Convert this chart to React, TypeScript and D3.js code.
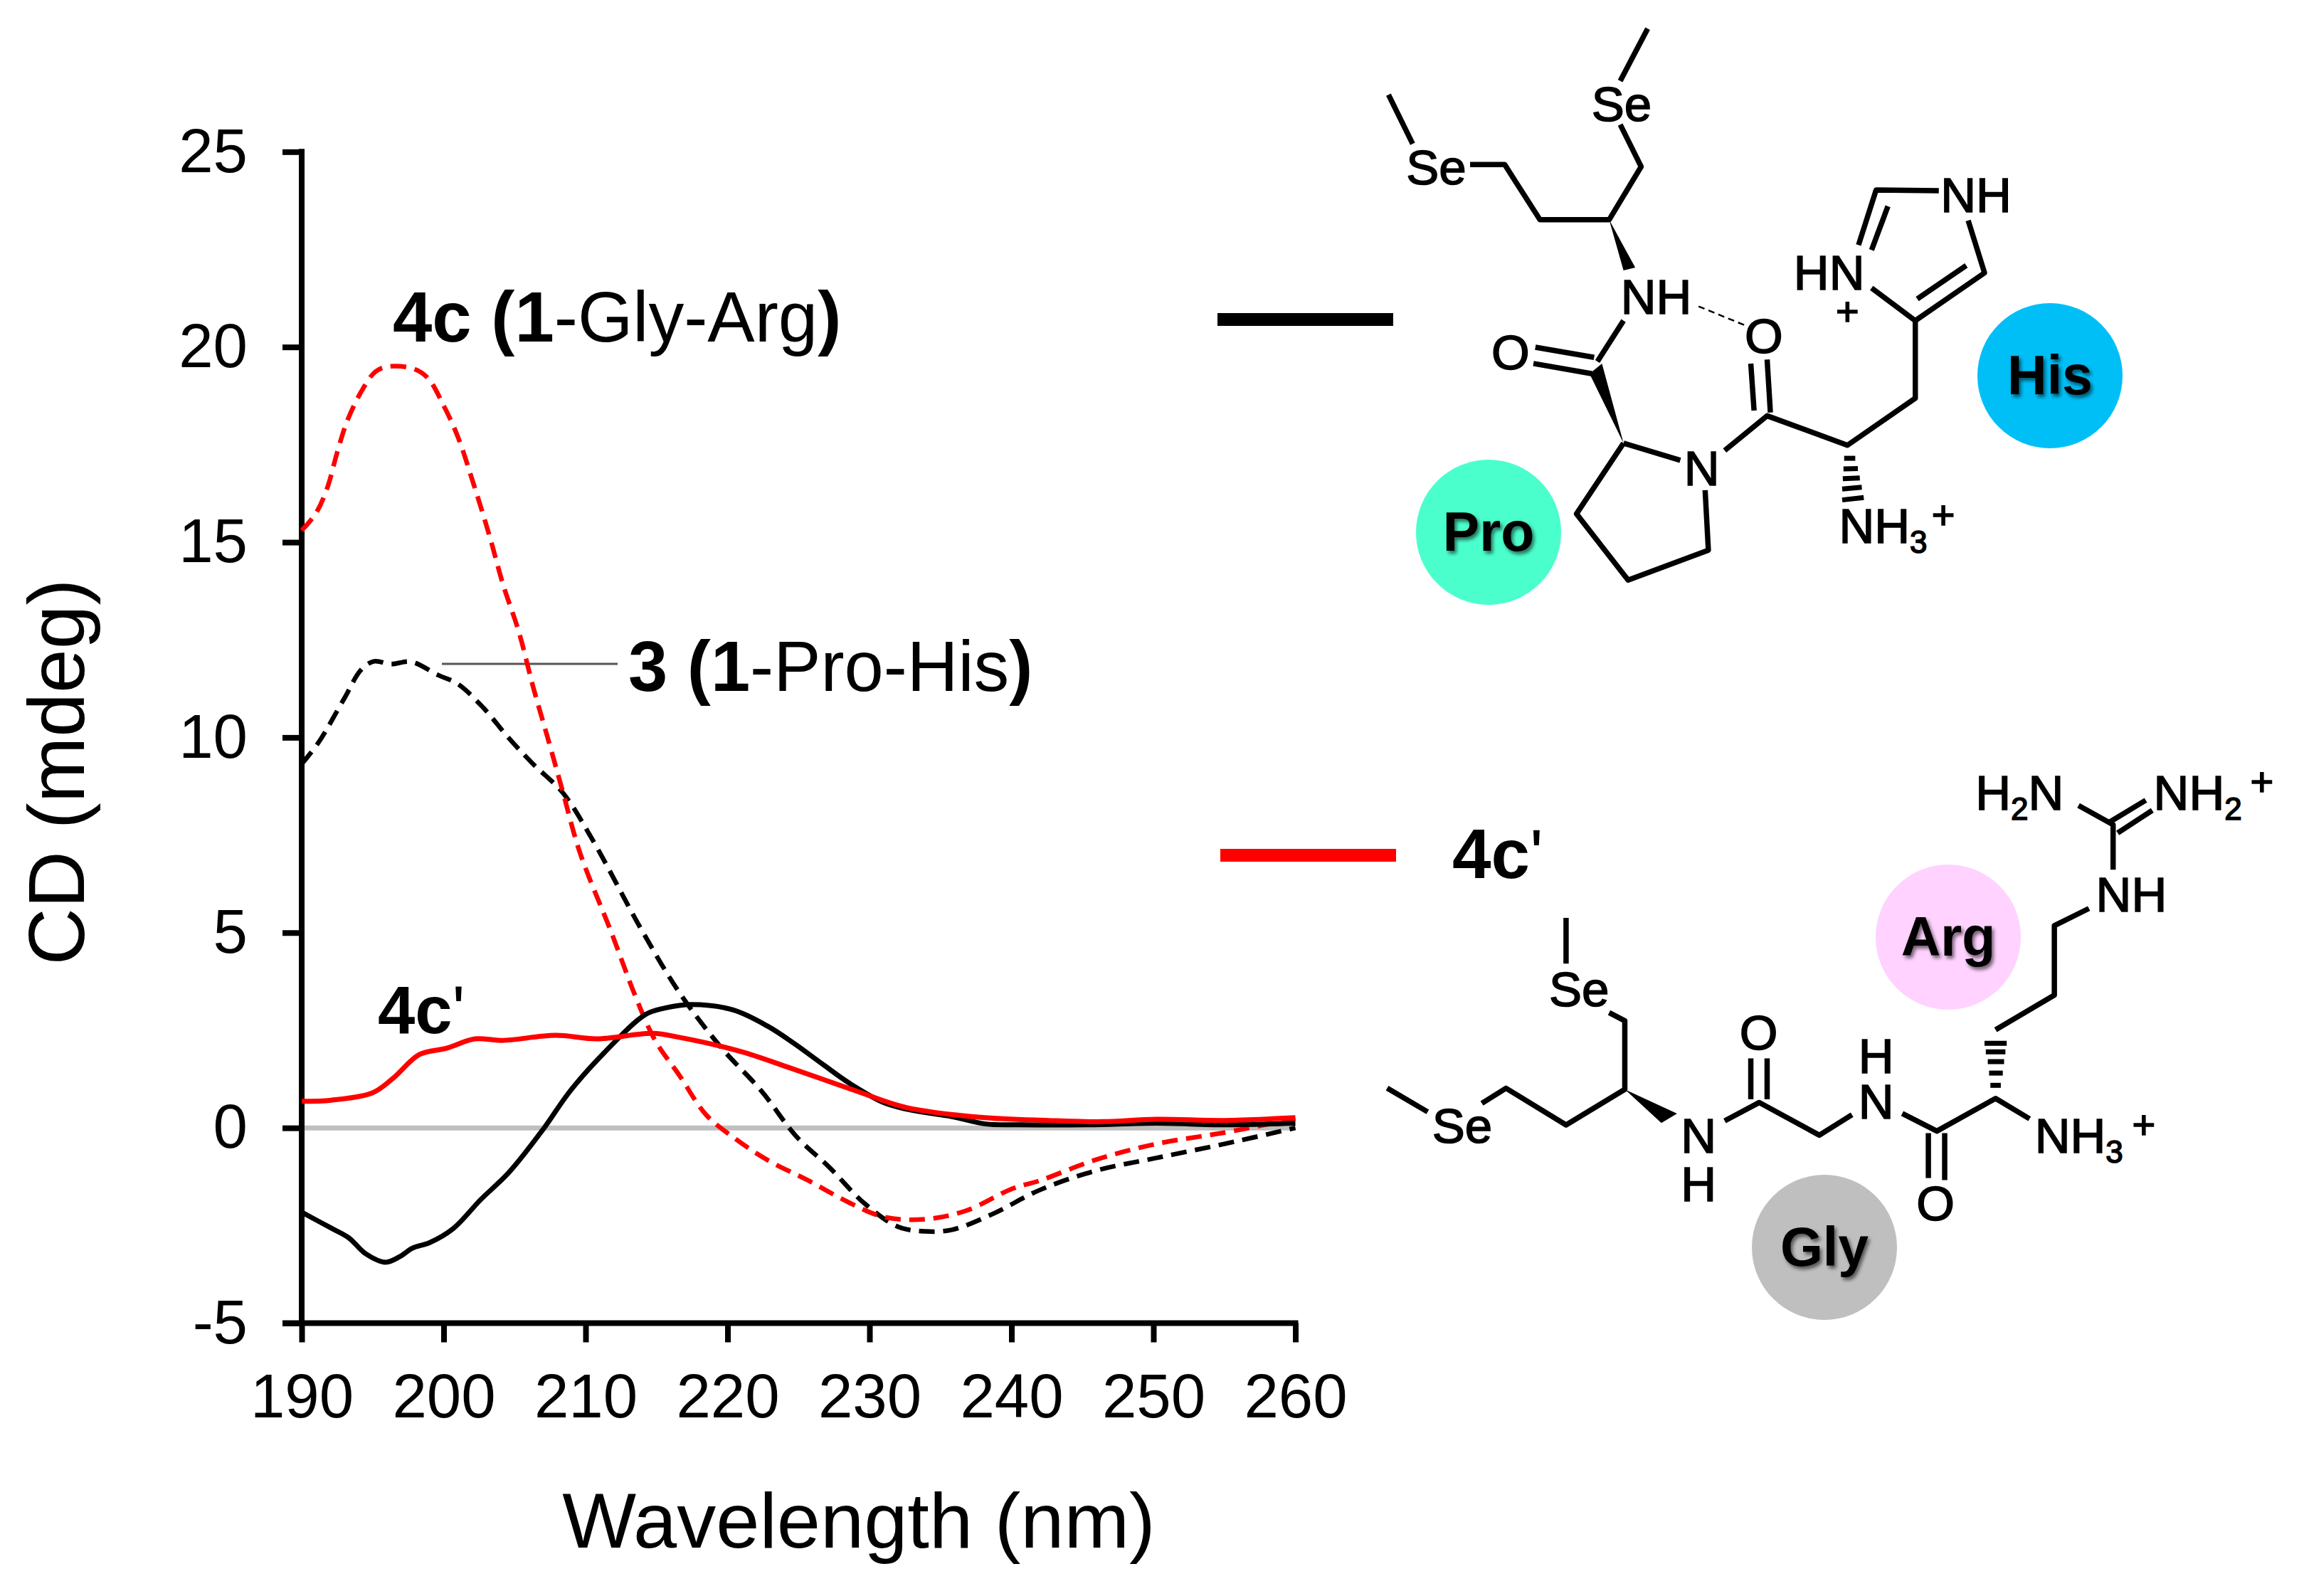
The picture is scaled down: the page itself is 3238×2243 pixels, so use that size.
import React, { useEffect, useRef } from "react";
import * as d3 from "d3";

const W = 3238, H = 2243;
const xTicks = [190, 200, 210, 220, 230, 240, 250, 260];
const yTicks = [-5, 0, 5, 10, 15, 20, 25];

const blackSolidX = [190,192.1,193.3,194.5,195.9,196.9,197.8,199,200.7,202.6,204.6,207,208.9,211.3,214.2,215.6,217.5,220.4,222.8,224.7,226.7,228.6,231,233,235.8,238.2,240.6,245.4,250.2,255,260];
const blackSolidY = [-2.16,-2.57,-2.81,-3.22,-3.44,-3.3,-3.08,-2.94,-2.57,-1.84,-1.14,-0.04,0.94,1.92,2.9,3.07,3.16,3.02,2.61,2.16,1.63,1.14,0.65,0.45,0.29,0.1,0.08,0.08,0.12,0.08,0.12];
const redSolidX = [190,192.1,195,196.4,198.3,200.2,202.2,204.1,207.9,210.8,214.7,216.6,220.9,224.3,229.1,232.5,237.8,242.6,246.4,250.2,255,260];
const redSolidY = [0.68,0.71,0.9,1.26,1.88,2.04,2.28,2.24,2.37,2.28,2.42,2.32,1.96,1.55,0.94,0.53,0.27,0.19,0.16,0.22,0.19,0.26];
const blackDashX = [190,191.2,193,194.2,195.1,196.3,197.7,199.6,201,202.8,204.5,206.3,208.4,210.5,213.9,216.6,219.5,222.4,224.8,227.2,229.6,232,233.9,235.8,238.7,242,245.9,250.2,255,260];
const blackDashY = [9.32,9.88,11,11.74,11.95,11.88,11.94,11.6,11.37,10.76,10.02,9.32,8.58,7.37,5.1,3.47,2.08,0.94,-0.2,-1.02,-1.92,-2.53,-2.65,-2.61,-2.2,-1.59,-1.1,-0.77,-0.41,0];
const redDashX = [190,191,191.8,192.5,193.2,194.2,195.2,196.1,197.9,198.9,200,201,202.1,203.2,204.2,205.3,206.3,207.4,208.4,209.6,211.8,213.5,214.9,216.6,218.5,220.4,222.8,225.7,228.6,231,233.9,236.8,240.1,242,245.9,250.2,255,258.4,260];
const redDashY = [15.3,15.74,16.39,17.3,18.1,18.86,19.37,19.5,19.44,19.2,18.5,17.7,16.5,15.2,13.9,12.7,11.3,9.9,8.6,7.05,5.02,3.38,2.24,1.35,0.33,-0.24,-0.82,-1.35,-1.92,-2.28,-2.34,-2.12,-1.55,-1.35,-0.82,-0.41,-0.12,0.12,0.24];

const SANS = "'Liberation Sans', Arial, sans-serif";
const FX = 1.09, FY = 1.742;
type P = [number, number];
const topP = (p: P): P => [1800 + p[0] / FX, p[1] / FY];
const botP = (p: P): P => [1800 + p[0] / FX, 1050 + p[1] / FY];

const topBonds: P[][] = [
  [[165,232],[202,352]],
  [[290,403],[343,403],[397,538],[503,538],[552,408],[520,305]],
  [[520,198],[562,70]],
  [[525,785],[485,885]],
  [[390,850],[480,875]],
  [[387,890],[477,915]],
  [[525,1085],[612,1127]],
  [[650,1200],[655,1347],[532,1420],[453,1258],[525,1085]],
  [[680,1103],[745,1018],[868,1090],[972,975],[972,785]],
  [[725,1005],[720,890]],
  [[750,1010],[745,880]],
  [[972,785],[905,705]],
  [[885,600],[912,465],[1008,467]],
  [[905,612],[930,505]],
  [[1053,540],[1078,668],[972,785]],
  [[1050,650],[975,732]],
];
const topWedges: P[][] = [
  [[503,538],[525,662],[543,655]],
  [[525,1085],[473,915],[492,890]],
];
const topHash: P[][] = [
  [[863,1122],[880,1122]],[[862,1148],[884,1147]],[[861,1172],[887,1170]],[[860,1197],[890,1193]],[[860,1224],[893,1218]],
];
const botBonds: P[][] = [
  [[437,418],[437,530]],
  [[503,650],[527,670],[527,838],[437,925],[345,835],[308,872]],
  [[225,893],[163,835]],
  [[680,915],[733,870],[825,950],[875,900]],
  [[720,862],[720,762]],
  [[745,862],[745,762]],
  [[952,897],[1005,940],[1095,860],[1147,910]],
  [[992,945],[992,1055]],
  [[1017,945],[1017,1060]],
  [[1095,692],[1185,607],[1185,437],[1238,395]],
  [[1275,300],[1275,190],[1222,143]],
  [[1268,185],[1325,130]],
  [[1282,210],[1335,155]],
];
const botWedges: P[][] = [[[527,838],[583,920],[607,897]]];
const botHash: P[][] = [
  [[1087,828],[1103,828]],[[1085,798],[1106,798]],[[1083,770],[1108,770]],[[1080,746],[1110,746]],[[1078,725],[1112,725]],
];

type Lbl = { t: string; x: number; y: number; sub?: string; tail?: string };
const topLabels: Lbl[] = [
  { t: "Se", x: 238, y: 408 }, { t: "Se", x: 522, y: 253 }, { t: "NH", x: 575, y: 725 },
  { t: "O", x: 740, y: 820 }, { t: "O", x: 352, y: 860 }, { t: "N", x: 645, y: 1145 },
  { t: "HN", x: 840, y: 665 }, { t: "+", x: 868, y: 752 }, { t: "NH", x: 1065, y: 475 },
  { t: "NH", x: 855, y: 1285, sub: "3" }, { t: "+", x: 1015, y: 1250 },
];
const botLabels: Lbl[] = [
  { t: "Se", x: 457, y: 590 }, { t: "Se", x: 278, y: 925 }, { t: "N", x: 640, y: 950 }, { t: "H", x: 640, y: 1068 },
  { t: "O", x: 732, y: 697 }, { t: "N", x: 912, y: 865 }, { t: "H", x: 912, y: 755 }, { t: "O", x: 1003, y: 1115 },
  { t: "NH", x: 1155, y: 950, sub: "3" }, { t: "+", x: 1322, y: 915 }, { t: "NH", x: 1303, y: 358 },
  { t: "H", x: 1064, y: 110, sub: "2", tail: "N" }, { t: "NH", x: 1337, y: 110, sub: "2" }, { t: "+", x: 1503, y: 75 },
];
const residues = [
  { name: "Pro", cx: 2092, cy: 748, color: "#4BFFCC" },
  { name: "His", cx: 2881, cy: 528, color: "#00BFF7" },
  { name: "Arg", cx: 2738, cy: 1317, color: "#FFD2FF" },
  { name: "Gly", cx: 2564, cy: 1753, color: "#BFBFBF" },
];

function App() {
  const ref = useRef<SVGGElement>(null);
  const x = d3.scaleLinear().domain([190, 260]).range([424, 1820.5]);
  const y = d3.scaleLinear().domain([-5, 25]).range([1859.5, 213.3]);
  useEffect(() => {
    const g = d3.select(ref.current!);
    g.selectAll("*").remove();
    const ax = g.append("g").attr("transform", `translate(0,${y(-5)})`)
      .call(d3.axisBottom(x).tickValues(xTicks).tickSize(27).tickPadding(44).tickFormat((d) => String(d)));
    const ay = g.append("g").attr("transform", `translate(${x(190)},0)`)
      .call(d3.axisLeft(y).tickValues(yTicks).tickSize(27).tickPadding(49).tickFormat((d) => String(d)));
    [ax, ay].forEach((a) => {
      a.selectAll("path,line").attr("stroke", "#000").attr("stroke-width", 8);
      a.selectAll(".domain").attr("d", a === ax ? `M${x(190) - 27},0H${x(260) + 4}` : `M0,${y(25) - 4}V${y(-5)}`);
      a.selectAll("text").attr("fill", "#000").attr("font-family", SANS).attr("font-size", 87);
    });
  }, []);
  const line = (xs: number[], ys: number[]) =>
    d3.line<number>().x((v) => x(v)).y((_, i) => y(ys[i])).curve(d3.curveCatmullRom.alpha(0.5))(xs) || "";
  const poly = (pts: P[], f: (p: P) => P) => pts.map(f).map((p) => p.join(",")).join(" ");
  const mol = (bonds: P[][], wedges: P[][], hash: P[][], labels: Lbl[], f: (p: P) => P, pre: string) => (
    <g>
      {bonds.map((b, i) => (
        <polyline key={pre + "b" + i} points={poly(b, f)} fill="none" stroke="#000" strokeWidth={7.5} strokeLinejoin="round" />
      ))}
      {wedges.map((b, i) => <polygon key={pre + "w" + i} points={poly(b, f)} fill="#000" />)}
      {hash.map((b, i) => (
        <polyline key={pre + "h" + i} points={poly(b, f)} fill="none" stroke="#000" strokeWidth={7} />
      ))}
      {labels.map((l, i) => {
        const [px, py] = f([l.x, l.y]);
        return (
          <text key={pre + "l" + i} x={px} y={py + 25} fontFamily={SANS} fontSize={l.t === "+" ? 56 : 69}
            textAnchor={l.sub ? "start" : "middle"} fill="#000" stroke="#000" strokeWidth={1.6}>
            {l.t}
            {l.sub && <tspan fontSize={44} dy={14}>{l.sub}</tspan>}
            {l.tail && <tspan dy={-14}>{l.tail}</tspan>}
          </text>
        );
      })}
    </g>
  );
  return (
    <svg width={W} height={H} viewBox={`0 0 ${W} ${H}`} style={{ position: "absolute", left: 0, top: 0, background: "#fff" }}>
      <defs>
        <filter id="shadow" x="-20%" y="-20%" width="140%" height="140%">
          <feDropShadow dx="3" dy="4" stdDeviation="2.5" floodColor="#000" floodOpacity="0.55" />
        </filter>
      </defs>
      <line x1={x(190)} x2={x(260)} y1={y(0)} y2={y(0)} stroke="#BFBFBF" strokeWidth={7} />
      <g ref={ref} />
      <line x1={621} x2={868} y1={933} y2={933} stroke="#555" strokeWidth={3} />
      <path d={line(blackDashX, blackDashY)} fill="none" stroke="#000" strokeWidth={6.5} strokeDasharray="22 12" />
      <path d={line(redDashX, redDashY)} fill="none" stroke="#FF0000" strokeWidth={6.5} strokeDasharray="22 12" />
      <path d={line(blackSolidX, blackSolidY)} fill="none" stroke="#000" strokeWidth={7} />
      <path d={line(redSolidX, redSolidY)} fill="none" stroke="#FF0000" strokeWidth={7} />
      <text x={1207} y={2175} textAnchor="middle" fontFamily={SANS} fontSize={110}>Wavelength (nm)</text>
      <text transform="translate(118,1085) rotate(-90)" textAnchor="middle" fontFamily={SANS} fontSize={111}>CD (mdeg)</text>
      <text x={552} y={480} fontFamily={SANS} fontSize={99.5}>
        <tspan fontWeight="bold">4c (1</tspan>-Gly-Arg<tspan fontWeight="bold">)</tspan>
      </text>
      <text x={883} y={971} fontFamily={SANS} fontSize={99.3}>
        <tspan fontWeight="bold">3 (1</tspan>-Pro-His<tspan fontWeight="bold">)</tspan>
      </text>
      <text x={531} y={1452} fontFamily={SANS} fontSize={94} fontWeight="bold">4c<tspan fontWeight="normal">'</tspan></text>
      <line x1={1711} x2={1958} y1={449} y2={449} stroke="#000" strokeWidth={18} />
      <line x1={1715} x2={1962} y1={1202} y2={1202} stroke="#FF0000" strokeWidth={18} />
      <text x={2041} y={1234} fontFamily={SANS} fontSize={98} fontWeight="bold">4c<tspan fontWeight="normal">'</tspan></text>
      {residues.map((r) => (
        <g key={r.name}>
          <circle cx={r.cx} cy={r.cy} r={102} fill={r.color} />
          <text x={r.cx} y={r.cy + 26} textAnchor="middle" fontFamily={SANS} fontSize={77} fontWeight="bold" filter="url(#shadow)">{r.name}</text>
        </g>
      ))}
      {mol(topBonds, topWedges, topHash, topLabels, topP, "t")}
      {mol(botBonds, botWedges, botHash, botLabels, botP, "b")}
      <line x1={topP([640,750])[0]} y1={topP([640,750])[1]} x2={topP([712,797])[0]} y2={topP([712,797])[1]} stroke="#000" strokeWidth={2.5} strokeDasharray="9 6" />
    </svg>
  );
}

export default App;
